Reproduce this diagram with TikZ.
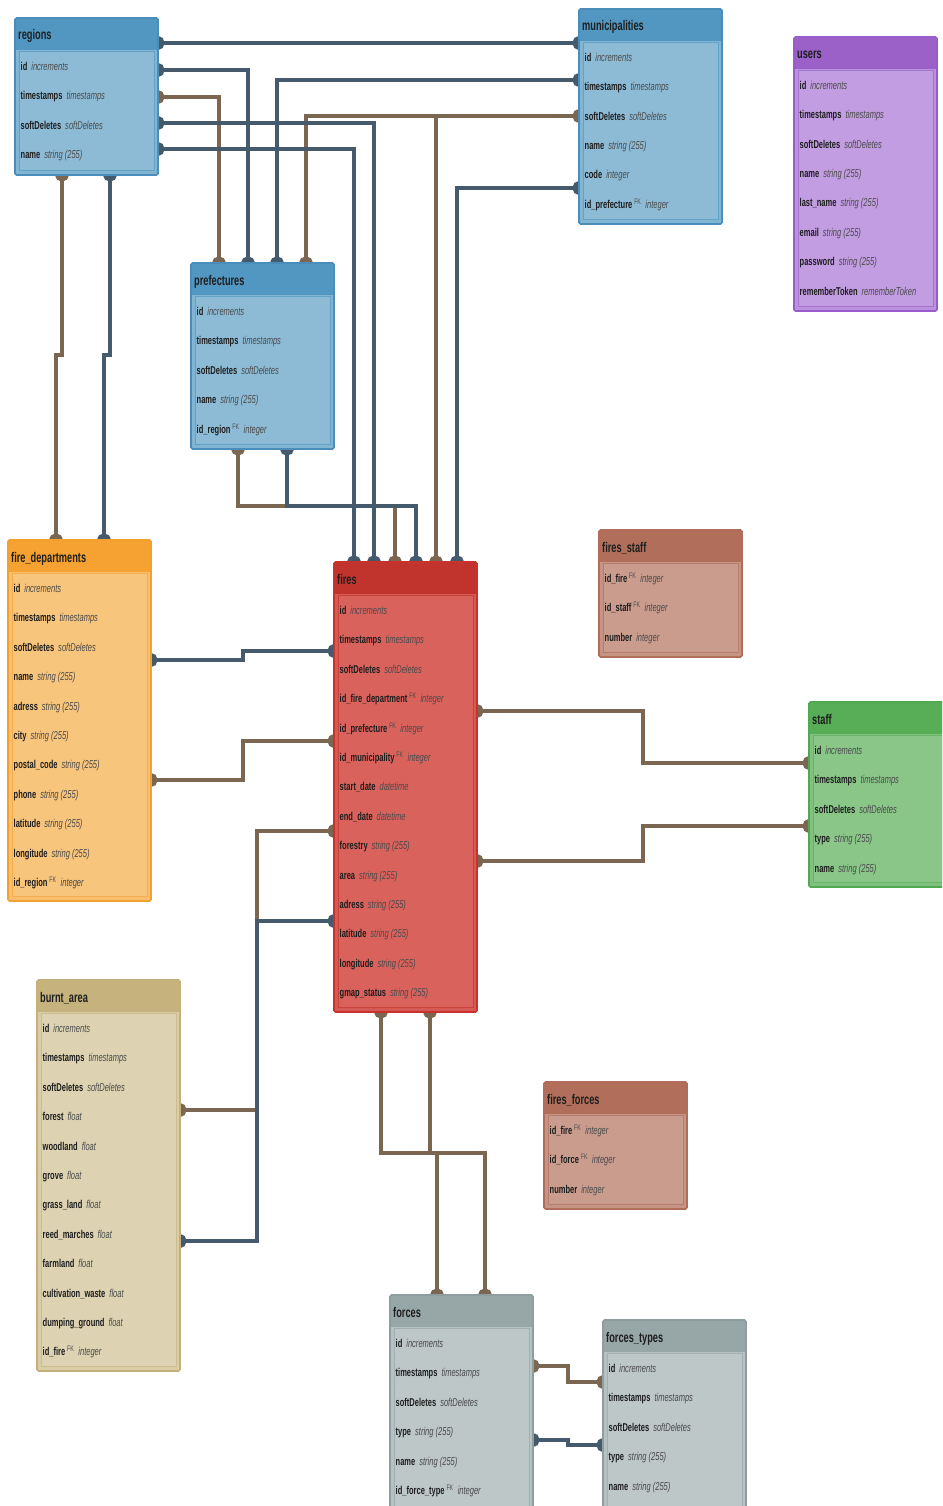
\documentclass[tikz,border=0pt]{standalone}
\usepackage{fontspec}
\setmainfont{Liberation Sans}[FakeStretch=0.66]
\usetikzlibrary{arrows.meta}
\pgfdeclarelayer{links}
\pgfsetlayers{links,main}

% table palettes: head / body / line
\definecolor{pBluehead}{HTML}{5197C1}\definecolor{pBluebody}{HTML}{8DBBD6}\definecolor{pBlueline}{HTML}{4A8DBA}
\definecolor{pPurplehead}{HTML}{9B61C9}\definecolor{pPurplebody}{HTML}{C29DE1}\definecolor{pPurpleline}{HTML}{9A5CCB}
\definecolor{pOrangehead}{HTML}{F5A232}\definecolor{pOrangebody}{HTML}{F8C57C}\definecolor{pOrangeline}{HTML}{F4A02C}
\definecolor{pRedhead}{HTML}{C1332D}\definecolor{pRedbody}{HTML}{DA625C}\definecolor{pRedline}{HTML}{C9322C}
\definecolor{pRusthead}{HTML}{B16F5B}\definecolor{pRustbody}{HTML}{CA9C8D}\definecolor{pRustline}{HTML}{B06D59}
\definecolor{pGreenhead}{HTML}{58AD57}\definecolor{pGreenbody}{HTML}{89C688}\definecolor{pGreenline}{HTML}{52A851}
\definecolor{pTanhead}{HTML}{C6B27C}\definecolor{pTanbody}{HTML}{DDD3B2}\definecolor{pTanline}{HTML}{C6B079}
\definecolor{pGrayhead}{HTML}{97A6A7}\definecolor{pGraybody}{HTML}{BDC7C8}\definecolor{pGrayline}{HTML}{8E9E9F}
\definecolor{typegray}{HTML}{4A4A4A}
\definecolor{namedark}{HTML}{1E1E1E}
\definecolor{linkblue}{HTML}{465A6D}
\definecolor{linkbrown}{HTML}{7A6651}

\newcommand\fkmark{\,\textsuperscript{\mdseries\color{typegray}FK}}

\tikzset{
  tablebox/.style={rectangle, minimum width=143pt, inner sep=0pt, outer sep=0pt},
  tbltitle/.style={font=\fontsize{14}{15}\selectfont\bfseries, text=namedark, inner sep=0pt, anchor=base west},
  tblrow/.style={font=\fontsize{11.4}{12}\selectfont, text=namedark, inner sep=0pt, anchor=base west},
  blob/.tip={Circle[length=13pt,width=14pt]},
  link/.style={line width=4pt, blob-blob, shorten <=-6.5pt, shorten >=-6.5pt},
  branch/.style={line width=4pt, -blob, shorten >=-6.5pt},
  lb/.style={link, draw=linkblue},
  lr/.style={link, draw=linkbrown, line width=3.5pt},
  br/.style={branch, draw=linkbrown, line width=3.5pt},
}

% \erdtable{name}{x}{y}{height}{palette}{title}{rows}
\newcommand\erdtable[7]{%
  \node[tablebox, fill=#5body!82!#5head, minimum height=#4pt, anchor=north west] (#1) at (#2,#3) {};
  \fill[#5head] (#1.north west) rectangle ([yshift=-32pt]#1.north east);
  \filldraw[fill=#5body, draw=#5head!70!#5body, line width=0.6pt]
    ([xshift=4pt,yshift=-33pt]#1.north west) rectangle ([xshift=-4pt,yshift=5pt]#1.south east);
  \draw[#5line, line width=1.6pt, rounded corners=1.5pt] (#1.north west) rectangle (#1.south east);
  \node[tbltitle] (#1-title) at ([xshift=3pt,yshift=-22pt]#1.north west) {#6};
  \foreach \fa/\fb [count=\i] in {#7} {
    \node[tblrow] (#1-row\i) at ([xshift=5.5pt,yshift={-23pt-29.4pt*\i}]#1.north west)
      {\textbf{\fa}\hspace{0.35em}{\color{typegray}\itshape\fb}};
  }
}

\begin{document}
\begin{tikzpicture}[x=1pt,y=-1pt]
\useasboundingbox (0,0) rectangle (942,1506);
\clip (0,0) rectangle (942,1506);

% ---------- tables ----------
\erdtable{regions}{15}{18}{157}{pBlue}{regions}
  {id/increments, timestamps/timestamps, softDeletes/softDeletes, name/string (255)}
\erdtable{municipalities}{579}{9}{215}{pBlue}{municipalities}
  {id/increments, timestamps/timestamps, softDeletes/softDeletes, name/string (255),
   code/integer, id\_prefecture\fkmark/integer}
\erdtable{users}{794}{37}{274}{pPurple}{users}
  {id/increments, timestamps/timestamps, softDeletes/softDeletes, name/string (255),
   last\_name/string (255), email/string (255), password/string (255),
   rememberToken/rememberToken}
\erdtable{prefectures}{191}{263}{186}{pBlue}{prefectures}
  {id/increments, timestamps/timestamps, softDeletes/softDeletes, name/string (255),
   id\_region\fkmark/integer}
\erdtable{firedep}{8}{540}{361}{pOrange}{fire\_departments}
  {id/increments, timestamps/timestamps, softDeletes/softDeletes, name/string (255),
   adress/string (255), city/string (255), postal\_code/string (255), phone/string (255),
   latitude/string (255), longitude/string (255), id\_region\fkmark/integer}
\erdtable{fires}{334}{562}{450}{pRed}{fires}
  {id/increments, timestamps/timestamps, softDeletes/softDeletes,
   id\_fire\_department\fkmark/integer, id\_prefecture\fkmark/integer,
   id\_municipality\fkmark/integer, start\_date/datetime, end\_date/datetime,
   forestry/string (255), area/string (255), adress/string (255), latitude/string (255),
   longitude/string (255), gmap\_status/string (255)}
\erdtable{firesstaff}{599}{530}{127}{pRust}{fires\_staff}
  {id\_fire\fkmark/integer, id\_staff\fkmark/integer, number/integer}
\erdtable{staff}{809}{702}{185}{pGreen}{staff}
  {id/increments, timestamps/timestamps, softDeletes/softDeletes, type/string (255),
   name/string (255)}
\erdtable{burnt}{37}{980}{391}{pTan}{burnt\_area}
  {id/increments, timestamps/timestamps, softDeletes/softDeletes, forest/float,
   woodland/float, grove/float, grass\_land/float, reed\_marches/float, farmland/float,
   cultivation\_waste/float, dumping\_ground/float, id\_fire\fkmark/integer}
\erdtable{firesforces}{544}{1082}{127}{pRust}{fires\_forces}
  {id\_fire\fkmark/integer, id\_force\fkmark/integer, number/integer}
\erdtable{forces}{390}{1295}{225}{pGray}{forces}
  {id/increments, timestamps/timestamps, softDeletes/softDeletes, type/string (255),
   name/string (255), id\_force\_type\fkmark/integer}
\erdtable{forcetypes}{603}{1320}{195}{pGray}{forces\_types}
  {id/increments, timestamps/timestamps, softDeletes/softDeletes, type/string (255),
   name/string (255)}

% ---------- relations (behind the tables) ----------
\begin{pgfonlayer}{links}
  \draw[lb] (regions.east |- 0,43) -- (municipalities.west |- 0,43);
  \draw[lb] (regions.east |- 0,70) -| (prefectures.north -| 248,0);
  \draw[lr] (regions.east |- 0,97) -| (prefectures.north -| 219,0);
  \draw[lb] (municipalities.west |- 0,80) -| (prefectures.north -| 277,0);
  \draw[lr] (municipalities.west |- 0,116) -| (prefectures.north -| 306,0);
  \coordinate (muniSplit) at (436,116);
  \draw[br] (muniSplit) -- (fires.north -| 436,0);
  \draw[lb] (regions.east |- 0,123) -| (fires.north -| 374,0);
  \draw[lb] (regions.east |- 0,149) -| (fires.north -| 354,0);
  \draw[lb] (municipalities.west |- 0,188) -| (fires.north -| 457,0);

  \draw[lr] (regions.south -| 62,0) -- (62,355) -| (firedep.north -| 56,0);
  \draw[lb] (regions.south -| 110,0) -- (110,355) -| (firedep.north -| 104,0);

  \draw[lr] (prefectures.south -| 238,0) |- (395,506) -- (fires.north -| 395,0);
  \draw[lb] (prefectures.south -| 287,0) |- (416,506) -- (fires.north -| 416,0);

  \draw[lb] (firedep.east |- 0,660) -| (243,651) -- (fires.west |- 0,651);
  \draw[lr] (firedep.east |- 0,780) -| (243,741) -- (fires.west |- 0,741);

  \draw[lr] (fires.west |- 0,831) -| (257,1110) -- (burnt.east |- 0,1110);
  \draw[lb] (fires.west |- 0,921) -| (257,1241) -- (burnt.east |- 0,1241);

  \draw[lr] (fires.east |- 0,711) -| (643,763) -- (staff.west |- 0,763);
  \draw[lr] (fires.east |- 0,861) -| (643,826) -- (staff.west |- 0,826);

  \draw[lr] (fires.south -| 381,0) |- (485,1153) -- (forces.north -| 485,0);
  \draw[lr] (fires.south -| 430,0) |- (437,1153) -- (forces.north -| 437,0);

  \draw[lr] (forces.east |- 0,1366) -| (568,1382) -- (forcetypes.west |- 0,1382);
  \draw[lb] (forces.east |- 0,1440) -| (568,1445) -- (forcetypes.west |- 0,1445);
\end{pgfonlayer}
\end{tikzpicture}
\end{document}
